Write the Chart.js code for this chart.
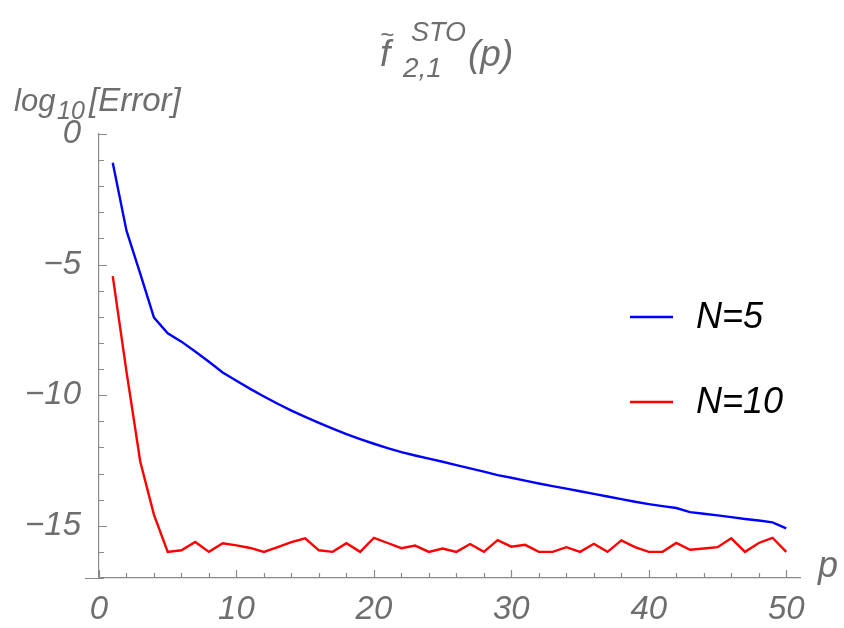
<!DOCTYPE html>
<html>
<head>
<meta charset="utf-8">
<script src="https://cdn.jsdelivr.net/npm/chart.js@4/dist/chart.umd.min.js"></script>
<style>
  html, body { margin: 0; padding: 0; background: #fff; }
</style>
</head>
<body>
<canvas id="chart" width="844" height="628"></canvas>
<script>
// p values along the x axis
const pValues = [1, 2, 3, 4, 5, 6, 7, 8, 9, 10,
  11, 12, 13, 14, 15, 16, 17, 18, 19, 20,
  21, 22, 23, 24, 25, 26, 27, 28, 29, 30,
  31, 32, 33, 34, 35, 36, 37, 38, 39, 40,
  41, 42, 43, 44, 45, 46, 47, 48, 49, 50];

// log10[Error], N=5
const errN5 = [-1.1, -3.7, -5.35, -7.03, -7.63, -7.95, -8.33, -8.72, -9.13, -9.45,
  -9.76, -10.05, -10.33, -10.59, -10.83, -11.06, -11.28, -11.49, -11.68, -11.86,
  -12.03, -12.18, -12.31, -12.43, -12.55, -12.68, -12.8, -12.93, -13.06, -13.16,
  -13.27, -13.38, -13.48, -13.58, -13.68, -13.78, -13.88, -13.98, -14.08, -14.17,
  -14.25, -14.32, -14.48, -14.54, -14.6, -14.67, -14.74, -14.8, -14.87, -15.1];

// log10[Error], N=10
const errN10 = [-5.44, -9.1, -12.54, -14.58, -16.0, -15.94, -15.62, -16.0, -15.67, -15.75,
  -15.85, -16.0, -15.82, -15.63, -15.48, -15.94, -16.0, -15.67, -16.0, -15.46,
  -15.66, -15.86, -15.76, -16.0, -15.87, -16.0, -15.7, -16.0, -15.55, -15.8,
  -15.73, -16.0, -16.0, -15.82, -16.0, -15.69, -16.0, -15.56, -15.82, -16.0,
  -16.0, -15.66, -15.92, -15.87, -15.82, -15.48, -16.0, -15.66, -15.46, -16.0];

const seriesNames = ['N=5', 'N=10'];
const seriesColors = ['#0000ff', '#ff0000'];

// tick marks and labels
const xTickValues = [0, 2, 4, 6, 8, 10, 12, 14, 16, 18, 20, 22, 24, 26, 28, 30,
  32, 34, 36, 38, 40, 42, 44, 46, 48, 50];
const xLabelValues = [0, 10, 20, 30, 40, 50];
const yTickValues = [-17, -16, -15, -14, -13, -12, -11, -10, -9, -8, -7, -6, -5, -4, -3, -2, -1, 0];
const yLabelValues = [-15, -10, -5, 0];

const GRAY = '#6e6e6e';
const AXIS = '#8a8a8a';
const FONT = '"Liberation Sans", Arial, sans-serif';

function fmt(v) {
  return v < 0 ? '\u2212' + (-v) : String(v);
}

// inward tick marks, title, axis labels and legend
const decorPlugin = {
  id: 'decor',
  afterDraw(chart) {
    const ctx = chart.ctx;
    const xs = chart.scales.x, ys = chart.scales.y;
    const area = chart.chartArea;
    ctx.save();
    ctx.strokeStyle = AXIS;
    ctx.lineWidth = 1.2;
    ctx.beginPath();
    xTickValues.forEach(v => {
      const px = Math.round(xs.getPixelForValue(v)) + 0.5;
      const len = xLabelValues.includes(v) ? 8 : 5;
      ctx.moveTo(px, area.bottom);
      ctx.lineTo(px, area.bottom - len);
    });
    yTickValues.forEach(v => {
      const py = Math.round(ys.getPixelForValue(v)) + 0.5;
      const len = yLabelValues.includes(v) ? 8 : 5;
      ctx.moveTo(area.left, py);
      ctx.lineTo(area.left + len, py);
    });
    // x axis sticks out a little left of the y axis
    ctx.moveTo(area.left - 14, area.bottom + 0.5);
    ctx.lineTo(area.left, area.bottom + 0.5);
    ctx.stroke();

    ctx.fillStyle = GRAY;
    ctx.textBaseline = 'alphabetic';
    ctx.textAlign = 'left';
    // title  f~ _{2,1}^{STO} (p)
    ctx.font = 'italic 37px ' + FONT;
    ctx.fillText('f', 380, 66);
    ctx.font = 'italic 24px ' + FONT;
    ctx.textBaseline = 'middle';
    ctx.fillText('~', 380, 36);
    ctx.textBaseline = 'alphabetic';
    ctx.font = 'italic 27px ' + FONT;
    ctx.fillText('STO', 411, 41);
    ctx.font = 'italic 28px ' + FONT;
    ctx.fillText('2,1', 403, 77);
    ctx.font = 'italic 37px ' + FONT;
    ctx.fillText('(p)', 468, 66);

    // y axis label  log10[Error]
    ctx.font = 'italic 31px ' + FONT;
    ctx.fillText('log', 14, 111);
    ctx.font = 'italic 25px ' + FONT;
    ctx.fillText('10', 57, 119);
    ctx.font = 'italic 33px ' + FONT;
    ctx.fillText('[Error]', 89, 111);

    // x axis label
    ctx.font = 'italic 36px ' + FONT;
    ctx.fillText('p', 818, 577);

    // legend
    const legendY = [317, 402];
    ctx.font = 'italic 36px ' + FONT;
    seriesNames.forEach((name, i) => {
      ctx.strokeStyle = seriesColors[i];
      ctx.lineWidth = 2.4;
      ctx.beginPath();
      ctx.moveTo(630, legendY[i]);
      ctx.lineTo(673, legendY[i]);
      ctx.stroke();
      ctx.fillStyle = '#000';
      ctx.textBaseline = 'middle';
      ctx.fillText(name, 696, legendY[i] + 1);
    });
    ctx.restore();
  }
};

new Chart(document.getElementById('chart'), {
  type: 'line',
  data: {
    datasets: [
      {
        label: seriesNames[0],
        data: pValues.map((p, i) => ({ x: p, y: errN5[i] })),
        borderColor: seriesColors[0],
        borderWidth: 2.4,
        pointRadius: 0,
        tension: 0
      },
      {
        label: seriesNames[1],
        data: pValues.map((p, i) => ({ x: p, y: errN10[i] })),
        borderColor: seriesColors[1],
        borderWidth: 2.4,
        pointRadius: 0,
        tension: 0
      }
    ]
  },
  options: {
    responsive: false,
    animation: false,
    devicePixelRatio: 1,
    layout: { padding: { top: 134, right: 44, left: 0, bottom: 0 } },
    plugins: {
      legend: { display: false },
      tooltip: { enabled: false }
    },
    scales: {
      x: {
        type: 'linear',
        min: 0,
        max: 51,
        grid: { display: false },
        border: { display: true, color: AXIS, width: 1.2 },
        afterBuildTicks: s => { s.ticks = xTickValues.map(v => ({ value: v })); },
        afterFit: s => { s.height = 50; },
        ticks: {
          autoSkip: false,
          maxRotation: 0,
          padding: 4,
          color: GRAY,
          font: { family: FONT, size: 33, style: 'italic' },
          callback: v => xLabelValues.includes(v) ? fmt(v) : ''
        }
      },
      y: {
        type: 'linear',
        min: -17,
        max: 0,
        grid: { display: false },
        border: { display: true, color: AXIS, width: 1.2 },
        afterBuildTicks: s => { s.ticks = yTickValues.map(v => ({ value: v })); },
        afterFit: s => { s.width = 99; },
        ticks: {
          autoSkip: false,
          padding: 10,
          color: GRAY,
          font: { family: FONT, size: 33, style: 'italic' },
          callback: v => yLabelValues.includes(v) ? fmt(v) : ''
        }
      }
    }
  },
  plugins: [decorPlugin]
});
</script>
</body>
</html>
